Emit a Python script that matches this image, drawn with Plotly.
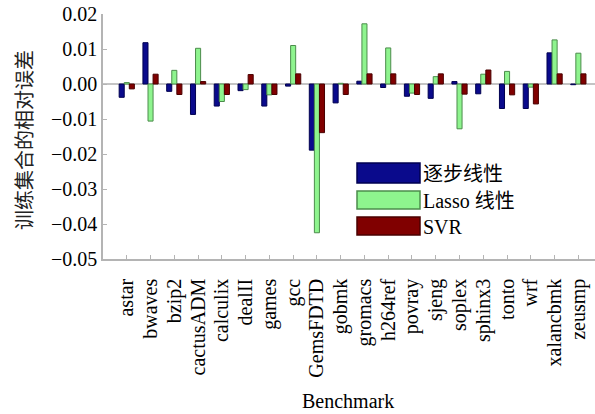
import plotly.graph_objects as go

# Benchmarks and relative training-set errors of the three models
benchmarks = ["astar", "bwaves", "bzip2", "cactusADM", "calculix", "dealII", "games",
              "gcc", "GemsFDTD", "gobmk", "gromacs", "h264ref", "povray", "sjeng",
              "soplex", "sphinx3", "tonto", "wrf", "xalancbmk", "zeusmp"]
stepwise = [-0.0038, 0.0118, -0.0021, -0.0087, -0.0063, -0.0019, -0.0063,
            -0.0006, -0.0189, -0.0054, 0.0008, -0.0010, -0.0035, -0.0041,
            0.0007, -0.0028, -0.0070, -0.0070, 0.0089, -0.0002]
lasso = [0.0004, -0.0106, 0.0039, 0.0102, -0.0050, -0.0016, -0.0031,
         0.0110, -0.0425, 0.0002, 0.0172, 0.0103, -0.0026, 0.0021,
         -0.0128, 0.0028, 0.0036, -0.0009, 0.0126, 0.0088]
svr = [-0.0014, 0.0028, -0.0030, 0.0007, -0.0030, 0.0027, -0.0030,
       0.0029, -0.0139, -0.0030, 0.0029, 0.0029, -0.0030, 0.0029,
       -0.0029, 0.0040, -0.0031, -0.0057, 0.0029, 0.0029]
series_names = ["逐步线性", "Lasso 线性", "SVR"]
y_ticks = [0.02, 0.01, 0.00, -0.01, -0.02, -0.03, -0.04, -0.05]

FONT = "Liberation Serif, Times New Roman, Noto Sans CJK SC, serif"
FS = 20
fills = ["#0a0a8c", "#8ef48e", "#800000"]
edges = ["#000050", "#4c8c4c", "#4a0000"]

W, H = 595, 414
L, R, T, B = 103, 0, 14, 155

fig = go.Figure()
for name, vals, fc, ec in zip(series_names, [stepwise, lasso, svr], fills, edges):
    fig.add_trace(go.Bar(x=benchmarks, y=vals, name=name,
                         marker=dict(color=fc, line=dict(color=ec, width=1)),
                         showlegend=False))

# Helpers for placing the legend block in pixel space
pw, ph = W - L - R, H - T - B
def px(x):
    return (x - L) / pw
def py(y):
    return (H - B - y) / ph

shapes, annotations = [], []
legend_rows = [(163, 183), (191, 209), (217, 235)]
for (y0, y1), name, fc, ec in zip(legend_rows, series_names, fills, edges):
    shapes.append(dict(type="rect", xref="paper", yref="paper",
                       x0=px(357), x1=px(420), y0=py(y1), y1=py(y0),
                       fillcolor=fc, line=dict(color=ec, width=1.5), layer="above"))
    annotations.append(dict(text=name, xref="paper", yref="paper",
                            x=px(421), y=py((y0 + y1) / 2 + 1), xanchor="left", yanchor="middle",
                            showarrow=False, font=dict(family=FONT, size=FS, color="black")))

annotations.append(dict(text="Benchmark", xref="paper", yref="paper",
                        x=px(348), y=py(401), xanchor="center", yanchor="middle",
                        showarrow=False, font=dict(family=FONT, size=FS, color="black")))
annotations.append(dict(text="训练集合的相对误差", xref="paper", yref="paper",
                        x=px(25), y=py(140), xanchor="center", yanchor="middle",
                        textangle=-90, showarrow=False,
                        font=dict(family=FONT, size=FS, color="#222222")))

fig.update_layout(
    width=W, height=H,
    margin=dict(l=L, r=R, t=T, b=B, pad=0),
    paper_bgcolor="white", plot_bgcolor="white",
    barmode="group", bargap=0.36, bargroupgap=0,
    font=dict(family=FONT, size=FS, color="black"),
    shapes=shapes, annotations=annotations,
)
fig.update_xaxes(
    type="category", range=[-1, 19.7],
    tickmode="array", tickvals=benchmarks, ticktext=benchmarks,
    showline=True, linecolor="#b4b4b4", linewidth=1.5,
    ticks="inside", ticklen=4, tickcolor="#b4b4b4",
    tickangle=-90, ticklabelstandoff=10, showgrid=False, zeroline=False,
    tickfont=dict(family=FONT, size=FS, color="black"),
)
fig.update_yaxes(
    range=[-0.05, 0.02], tickvals=y_ticks, tickformat=".2f",
    showline=True, linecolor="#b4b4b4", linewidth=1.5,
    ticks="inside", ticklen=4, tickcolor="#b4b4b4",
    showgrid=False, zeroline=True, zerolinecolor="#c4c4c4", zerolinewidth=1.5,
    tickfont=dict(family=FONT, size=FS, color="black"),
)

fig.write_html("out.html")
